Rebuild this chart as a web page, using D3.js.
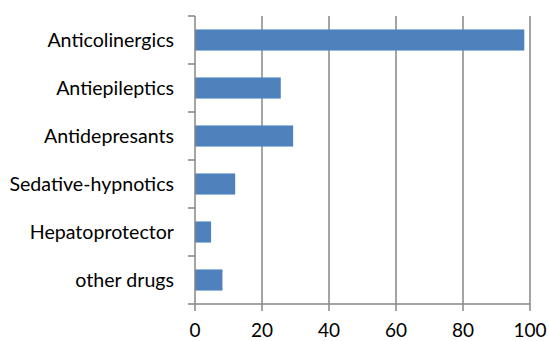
<!DOCTYPE html>
<html>
<head>
  <script src="https://d3js.org/d3.v7.min.js"></script>
  <style>
    body { margin: 0; background: #fff; }
    text { font-family: Lato, "Open Sans", sans-serif; fill: #000; }
  </style>
</head>
<body>
  <div id="chart"></div>
  <script>
    var categories = ['Anticolinergics', 'Antiepileptics', 'Antidepresants', 'Sedative-hypnotics', 'Hepatoprotector', 'other drugs'];
    var values = [98.3, 25.6, 29.3, 12.0, 4.8, 8.2];
    var xTicks = [0, 20, 40, 60, 80, 100];

    var margin = { top: 16, right: 19, bottom: 37, left: 195 };
    var width = 549 - margin.left - margin.right;
    var height = 341 - margin.top - margin.bottom;

    var svg = d3.select('#chart').append('svg')
      .attr('width', 549)
      .attr('height', 341)
      .append('g')
      .attr('transform', 'translate(' + margin.left + ',' + margin.top + ')');

    var x = d3.scaleLinear().domain([0, 100]).range([0, width]);
    var y = d3.scaleBand().domain(categories).range([0, height]).paddingInner(0.56).paddingOuter(0.28);

    // vertical gridlines
    svg.selectAll('.grid')
      .data(xTicks.slice(1))
      .enter().append('line')
      .attr('x1', function(d) { return x(d); })
      .attr('x2', function(d) { return x(d); })
      .attr('y1', 0)
      .attr('y2', height)
      .attr('stroke', '#868686')
      .attr('stroke-width', 1.5);

    svg.selectAll('.bar')
      .data(values)
      .enter().append('rect')
      .attr('x', x(0))
      .attr('y', function(d, i) { return y(categories[i]); })
      .attr('width', function(d) { return x(d) - x(0); })
      .attr('height', y.bandwidth())
      .attr('fill', '#4F81BD');

    // category axis with ticks between bands
    var band = height / categories.length;
    var catAxis = svg.append('g');
    catAxis.append('line')
      .attr('x1', 0).attr('x2', 0).attr('y1', 0).attr('y2', height)
      .attr('stroke', '#868686').attr('stroke-width', 1.5);
    catAxis.selectAll('.tick')
      .data(d3.range(categories.length + 1))
      .enter().append('line')
      .attr('x1', -7).attr('x2', 0)
      .attr('y1', function(d) { return d * band; })
      .attr('y2', function(d) { return d * band; })
      .attr('stroke', '#868686').attr('stroke-width', 1.5);
    catAxis.selectAll('.lbl')
      .data(categories)
      .enter().append('text')
      .attr('x', -21)
      .attr('y', function(d) { return y(d) + y.bandwidth() / 2; })
      .attr('dy', '0.35em')
      .attr('text-anchor', 'end')
      .style('font-size', '19.6px')
      .text(function(d) { return d; });

    // value axis
    var valAxis = svg.append('g').attr('transform', 'translate(0,' + height + ')');
    valAxis.append('line')
      .attr('x1', 0).attr('x2', width)
      .attr('stroke', '#868686').attr('stroke-width', 1.5);
    valAxis.selectAll('.tick')
      .data(xTicks)
      .enter().append('line')
      .attr('x1', function(d) { return x(d); })
      .attr('x2', function(d) { return x(d); })
      .attr('y1', 0).attr('y2', 7)
      .attr('stroke', '#868686').attr('stroke-width', 1.5);
    valAxis.selectAll('.lbl')
      .data(xTicks)
      .enter().append('text')
      .attr('x', function(d) { return x(d); })
      .attr('y', 33)
      .attr('text-anchor', 'middle')
      .style('font-size', '19px')
      .text(function(d) { return d; });
  </script>
</body>
</html>
